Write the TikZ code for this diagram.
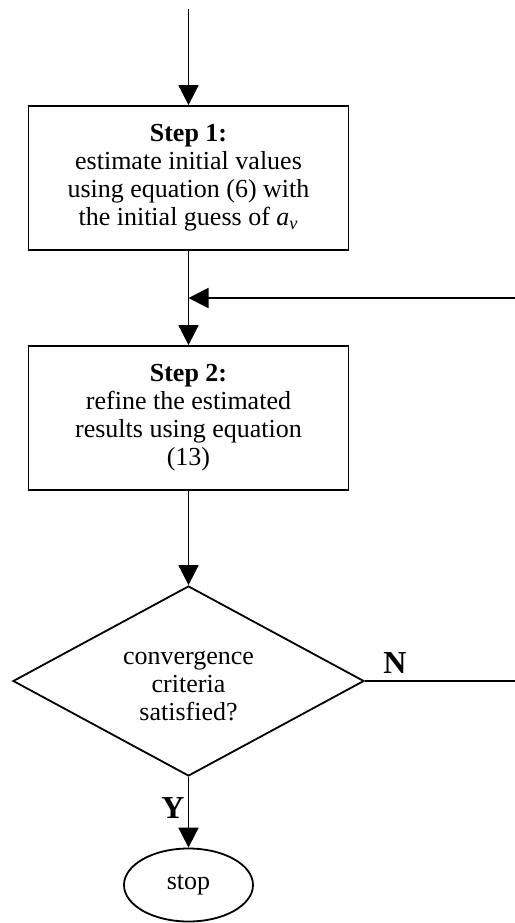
\documentclass[tikz,border=0pt]{standalone}
\usepackage{fontspec}
\setmainfont{Liberation Serif}
\usetikzlibrary{shapes.geometric,arrows.meta}

\begin{document}
\begin{tikzpicture}[x=0.5pt,y=-0.5pt,
  flow/.style={line width=0.9pt},
  arr/.style={flow,-{Triangle[width=10pt,length=10pt]}},
  body/.style={font=\fontsize{13}{14}\selectfont},
  stepbox/.style={draw,line width=0.9pt,body,align=center,
    minimum width=160pt,minimum height=72pt,inner sep=0pt},
  decision/.style={draw,line width=0.9pt,diamond,
    aspect=1.85,minimum width=175.5pt,minimum height=95pt,inner sep=0pt},
  textonly/.style={body,align=center,inner sep=0pt},
  terminal/.style={draw,line width=0.9pt,body,ellipse,
    minimum width=64.5pt,minimum height=36.5pt,inner sep=0pt},
  branch/.style={font=\fontsize{16}{16}\selectfont\bfseries,inner sep=0pt}
]
\useasboundingbox (0,0) rectangle (515,923);

% process steps
\node[stepbox] (s1) at (188.5,178)
  {\textbf{Step 1:}\\estimate initial values\\using equation (6) with\\the initial guess of \textit{a\textsubscript{v}}};
\node[stepbox] (s2) at (188.5,418)
  {\textbf{Step 2:}\\refine the estimated\\results using equation\\(13)};

% convergence test (text sits a little below the diamond centre) and end
\node[decision] (d) at (188.5,681) {};
\node[textonly] (dtext) at (188.5,686) {convergence\\criteria\\satisfied?};
\node[terminal] (stop) at (188.5,885) {stop};

% entry and feedback end points
\coordinate (start) at (188.5,9);
\coordinate (fbR) at (515,298);
\coordinate (nR) at (515,681);

% connectors
\draw[arr] (start) -- (s1.north);
\draw[arr] (s1.south) -- (s2.north);
\draw[arr] (fbR) -- (s1.south |- fbR);
\draw[arr] (s2.south) -- (d.north);
\draw[flow] (d.east) -- (nR);
\draw[arr] (d.south) -- (stop.north);

% branch labels
\node[branch] (nlab) at (395,663) {N};
\node[branch] (ylab) at (173,808) {Y};
\end{tikzpicture}
\end{document}
